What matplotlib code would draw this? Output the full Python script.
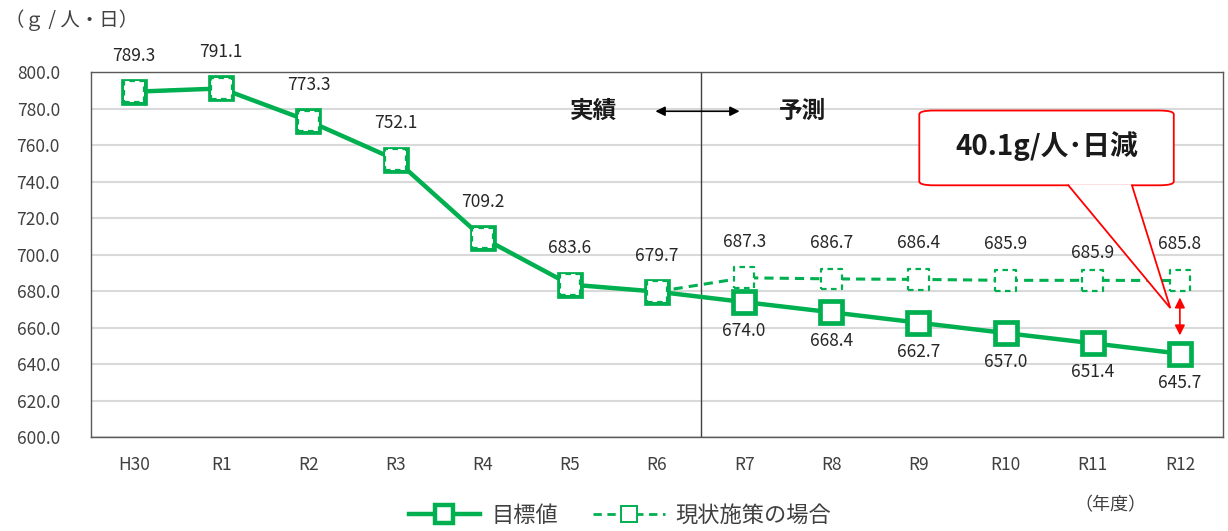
import matplotlib
matplotlib.use('Agg')
import matplotlib.pyplot as plt
from matplotlib.lines import Line2D
from matplotlib.patches import FancyBboxPatch, Polygon
import numpy as np

plt.rcParams['font.family'] = ['Noto Sans CJK JP', 'DejaVu Sans']

years = ['H30', 'R1', 'R2', 'R3', 'R4', 'R5', 'R6',
         'R7', 'R8', 'R9', 'R10', 'R11', 'R12']
target = [789.3, 791.1, 773.3, 752.1, 709.2, 683.6, 679.7,
          674.0, 668.4, 662.7, 657.0, 651.4, 645.7]
current = [789.3, 791.1, 773.3, 752.1, 709.2, 683.6, 679.7,
           687.3, 686.7, 686.4, 685.9, 685.9, 685.8]
n_actual = 7  # H30..R6 are actual values

green = '#00B050'
txt = '#404040'

fig = plt.figure(figsize=(12.28, 5.31), dpi=100)
ax = fig.add_axes([0.0737, 0.177, 0.9226, 0.687])
x = np.arange(len(years))

# current-policy series: dashed line, dashed-edge square markers
ax.plot(x, current, color=green, lw=2.2, ls=(0, (3, 2)), zorder=3)
# target series
ax.plot(x, target, color=green, lw=3.2, marker='s', ms=16, mew=3.4,
        mfc='white', mec=green, zorder=4)
ax.scatter(x, current, s=220, marker='s', facecolors='white',
           edgecolors=green, linewidths=1.6, linestyles=(0, (2.5, 2)),
           zorder=5)

# data labels
for i in range(len(years)):
    if i < n_actual:
        ax.annotate(f'{target[i]:.1f}', (x[i], target[i]), xytext=(0, 26),
                    textcoords='offset points', ha='center', va='center',
                    fontsize=12.5, color='#262626')
    else:
        ax.annotate(f'{target[i]:.1f}', (x[i], target[i]), xytext=(0, -21),
                    textcoords='offset points', ha='center', va='center',
                    fontsize=12.5, color='#262626')
        dy = 20 if years[i] == 'R11' else 26
        ax.annotate(f'{current[i]:.1f}', (x[i], current[i]), xytext=(0, dy),
                    textcoords='offset points', ha='center', va='center',
                    fontsize=12.5, color='#262626')

ax.set_xlim(-0.5, len(years) - 0.5)
ax.set_ylim(600, 800)
ax.set_yticks(np.arange(600, 801, 20))
ax.set_yticklabels([f'{v:.1f}' for v in np.arange(600, 801, 20)])
ax.set_xticks(x)
ax.set_xticklabels(years)
ax.tick_params(length=0, labelsize=12.5, colors=txt)
ax.tick_params(axis='y', pad=22)
ax.tick_params(axis='x', pad=14)
ax.grid(axis='y', color='#d9d9d9', lw=1.5)
ax.set_axisbelow(True)
for s in ax.spines.values():
    s.set_color('#595959')
    s.set_linewidth(1.0)

# actual / forecast divider
ax.axvline(n_actual - 0.5, color='#404040', lw=1.0, zorder=2)
ax.annotate('', xy=(5.95, 778.6), xytext=(6.98, 778.6),
            arrowprops=dict(arrowstyle='<|-|>', color='black', lw=1.2,
                            mutation_scale=14))
ax.text(5.27, 778.6, '実績', ha='center', va='center', fontsize=17,
        fontweight='bold', color='#1a1a1a')
ax.text(7.67, 778.6, '予測', ha='center', va='center', fontsize=17,
        fontweight='bold', color='#1a1a1a')

# callout box with tail
box_y0, box_y1 = 738.0, 779.0
box = FancyBboxPatch((9.01, box_y0), 2.92, box_y1 - box_y0,
                     boxstyle='round,pad=0,rounding_size=0.17',
                     mutation_aspect=12, fc='white', ec='red', lw=1.3,
                     zorder=6)
ax.add_patch(box)
tip = (11.89, 670.7)
bx0, bx1 = 10.72, 11.45
ax.add_patch(Polygon([(bx0, box_y0 + 0.6), (bx1, box_y0 + 0.6), tip],
                     closed=True, fc='white', ec='none', zorder=7))
ax.plot([bx0, tip[0], bx1], [box_y0, tip[1], box_y0], color='red', lw=1.3,
        zorder=8, solid_joinstyle='miter')
ax.text(10.47, 759.5, '40.1g/人･日減', ha='center', va='center',
        fontsize=20, fontweight='bold', color='#1a1a1a', zorder=9)
ax.annotate('', xy=(12, 678.0), xytext=(12, 654.2),
            arrowprops=dict(arrowstyle='<|-|>', color='red', lw=1.2,
                            mutation_scale=15), zorder=9)

fig.text(0.004, 0.962, '（ｇ / 人・日）', fontsize=14, color=txt, va='center')
fig.text(0.875, 0.048, '（年度）', fontsize=13, color=txt, va='center')

handles = [Line2D([], [], color=green, lw=3.2, marker='s', ms=13, mew=3.2,
                  mfc='white', mec=green),
           Line2D([], [], color=green, lw=2.0, ls=(0, (3, 2)), marker='s',
                  ms=12, mew=1.4, mfc='white', mec=green)]
fig.legend(handles, ['目標値', '現状施策の場合'], loc='center',
           bbox_to_anchor=(0.505, 0.03), ncol=2, frameon=False,
           fontsize=16, handlelength=3.2, columnspacing=1.6,
           handletextpad=0.5, labelcolor=txt)

fig.savefig('out.png', dpi=100)
